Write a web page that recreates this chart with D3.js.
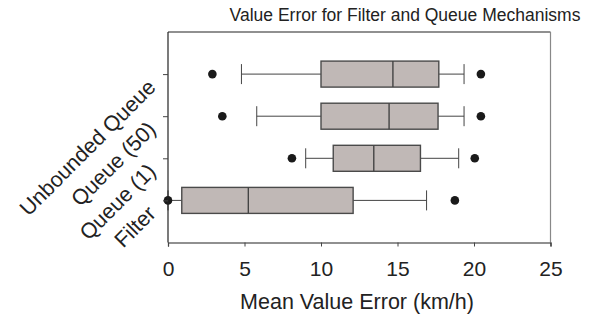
<!DOCTYPE html>
<html><head><meta charset="utf-8">
<script src="https://cdn.jsdelivr.net/npm/d3@7/dist/d3.min.js"></script>
<style>body{margin:0;background:#fff}svg{display:block}text{font-family:"Liberation Sans",Arial,Helvetica,sans-serif;fill:#222}</style>
</head><body>
<svg id="c" width="595" height="315"></svg>
<script>
const categories = ["Unbounded Queue", "Queue (50)", "Queue (1)", "Filter"];
const whiskerLow = [4.8, 5.8, 9.0, 0.0];
const q1 = [10.0, 10.0, 10.8, 0.9];
const median = [14.7, 14.45, 13.45, 5.25];
const q3 = [17.7, 17.65, 16.5, 12.1];
const whiskerHigh = [19.35, 19.35, 19.0, 16.9];
const outliers = [[2.9, 20.45], [3.55, 20.45], [8.1, 20.05], [0.0, 18.75]];
const xTicks = [0, 5, 10, 15, 20, 25];
const title = "Value Error for Filter and Queue Mechanisms";
const xLabel = "Mean Value Error (km/h)";

const svg = d3.select("#c");
const L = 168, R = 550.5, T = 32, B = 242.5;
const x = d3.scaleLinear().domain([0, 25]).range([L, R]);
const y = d3.scalePoint().domain(categories).range([T, B]).padding(1);
const boxH = 26, capH = 20;

// frame
svg.append("line").attr("x1", L).attr("x2", R).attr("y1", T).attr("y2", T).attr("stroke", "#222").attr("stroke-width", 1.2);
svg.append("line").attr("x1", R).attr("x2", R).attr("y1", T).attr("y2", B).attr("stroke", "#888").attr("stroke-width", 1.2);

const data = categories.map((c, i) => ({c, lo: whiskerLow[i], q1: q1[i], med: median[i], q3: q3[i], hi: whiskerHigh[i], out: outliers[i]}));
const g = svg.append("g");
data.forEach(d => {
  const cy = y(d.c);
  const s = "#444";
  g.append("line").attr("x1", x(d.lo)).attr("x2", x(d.q1)).attr("y1", cy).attr("y2", cy).attr("stroke", s).attr("stroke-width", 1);
  g.append("line").attr("x1", x(d.q3)).attr("x2", x(d.hi)).attr("y1", cy).attr("y2", cy).attr("stroke", s).attr("stroke-width", 1);
  g.append("line").attr("x1", x(d.lo)).attr("x2", x(d.lo)).attr("y1", cy - capH/2).attr("y2", cy + capH/2).attr("stroke", s).attr("stroke-width", 1);
  g.append("line").attr("x1", x(d.hi)).attr("x2", x(d.hi)).attr("y1", cy - capH/2).attr("y2", cy + capH/2).attr("stroke", s).attr("stroke-width", 1);
  g.append("rect").attr("x", x(d.q1)).attr("y", cy - boxH/2).attr("width", x(d.q3) - x(d.q1)).attr("height", boxH)
    .attr("fill", "#c0b8b6").attr("stroke", "#4a4a4a").attr("stroke-width", 1.4);
  g.append("line").attr("x1", x(d.med)).attr("x2", x(d.med)).attr("y1", cy - boxH/2).attr("y2", cy + boxH/2).attr("stroke", "#444").attr("stroke-width", 1.4);
  d.out.forEach(o => g.append("circle").attr("cx", x(o)).attr("cy", cy).attr("r", 4.3).attr("fill", "#1a1a1a"));
});

// axes
const xa = svg.append("g").attr("transform", `translate(0,${B})`)
  .call(d3.axisBottom(x).tickValues(xTicks).tickSize(4).tickPadding(15).tickFormat(d3.format("d")));
xa.select(".domain").attr("stroke", "#222").attr("stroke-width", 1.2);
xa.selectAll(".tick line").attr("stroke", "#444");
xa.selectAll("text").attr("font-size", 21).style("fill", "#222");

const ya = svg.append("g").attr("transform", `translate(${L},0)`)
  .call(d3.axisLeft(y).tickSize(5).tickFormat(""));
ya.select(".domain").attr("stroke", "#222").attr("stroke-width", 1.2).attr("d", `M0,${T}V${B}`);
ya.selectAll(".tick line").attr("stroke", "#444");
ya.selectAll(".tick").append("text")
  .attr("transform", "translate(-11,14) rotate(-45)")
  .attr("text-anchor", "end").attr("font-size", 21.5).style("fill", "#222")
  .text(d => d);

svg.append("text").attr("x", 357).attr("y", 21).attr("text-anchor", "middle").attr("font-size", 17.5).attr("dx", 48).text(title);
svg.append("text").attr("x", 357).attr("y", 309).attr("text-anchor", "middle").attr("font-size", 21.5).text(xLabel);
</script>
</body></html>
